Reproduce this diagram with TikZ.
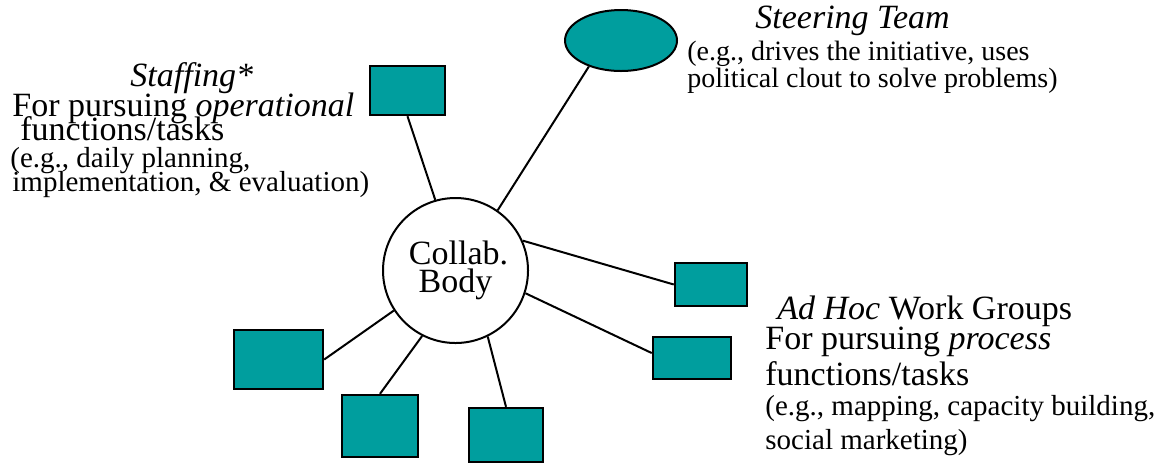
\documentclass[tikz,border=0pt]{standalone}
\usepackage{fontspec}
\setmainfont{Liberation Serif}
\usepackage{tikz}
\usetikzlibrary{shapes.geometric}
\definecolor{boxteal}{RGB}{0,158,158}
\tikzset{team box/.style={
  draw=black,
  fill=boxteal,
  line width=1.2pt,
  inner sep=0pt
  },
  my link/.style={
  black,
  line width=1pt
  },
  big text/.style={font=\fontsize{17}{17}\selectfont, anchor=base west, inner sep=0pt},
  small text/.style={font=\fontsize{14.5}{14.5}\selectfont, anchor=base west, inner sep=0pt}
}

\begin{document}
\begin{tikzpicture}[x=0.5pt,y=-0.5pt]
    \useasboundingbox (0,0) rectangle (1170,463);

    \node[draw,circle,line width=1pt,minimum size=72.5pt,inner sep=0pt,align=center,
          font=\fontsize{17}{14}\selectfont] (collab) at (455.5,270.5) {\hspace*{3pt}Collab.\\Body};
    \node[draw,ellipse,fill=boxteal,line width=1pt,minimum width=56pt,minimum height=30.5pt,inner sep=0pt] (steer) at (621,40.5) {};
    \node[team box,minimum width=37.5pt,minimum height=24.5pt] (staff) at (407.5,90.5) {};

    % ad hoc groups: x/y/width/height
    \foreach \x/\y/\w/\h [count=\n] in {711/284.5/36/21.5,692/358/39/21,278.5/359.5/44.5/29.5,380/426/38/31,506/435/37/27}
        \node[team box,minimum width=\w pt,minimum height=\h pt] (G\n) at (\x,\y) {};

    \draw[my link] (staff.south) to (collab.106);
    \draw[my link] (steer.219) to (collab.55);
    \foreach \a/\b [count=\n] in {24/west,-18/173,213/east,243/north,296/north}
        \draw[my link] (collab.\a) to (G\n.\b);

    \node[big text] (S1) at (130,86) {\textit{Staffing*}};
    \node[big text] (S2) at (12,116) {For pursuing \textit{operational}};
    \node[big text] (S3) at (20,140) {functions/tasks};
    \node[small text] (S4) at (10,167) {(e.g., daily planning,};
    \node[small text] (S5) at (12,191) {implementation, \& evaluation)};

    \node[big text] (T1) at (755,28) {\textit{Steering Team}};
    \node[small text,font=\fontsize{14}{14}\selectfont] (T2) at (687,60) {(e.g., drives the initiative, uses};
    \node[small text,font=\fontsize{14}{14}\selectfont] (T3) at (687,87) {political clout to solve problems)};

    \node[big text] (W1) at (777,319) {\textit{Ad Hoc} Work Groups};
    \node[big text] (W2) at (765,349) {For pursuing \textit{process}};
    \node[big text] (W3) at (765,385) {functions/tasks};
    \node[small text] (W4) at (765,415) {(e.g., mapping, capacity building,};
    \node[small text] (W5) at (765,449) {social marketing)};
\end{tikzpicture}
\end{document}
